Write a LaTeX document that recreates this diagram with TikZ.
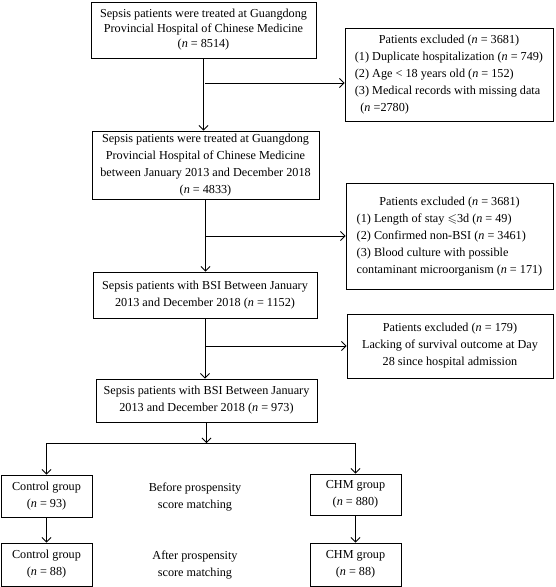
\documentclass[tikz,border=0pt]{standalone}
\usepackage{fontspec}
\setmainfont{Liberation Serif}
\usepackage{amssymb}
\usetikzlibrary{arrows.meta}
\newcommand{\nn}{\textit{n}}
\begin{document}
\begin{tikzpicture}[x=1pt,y=-1pt,
  box/.style={draw, line width=0.9pt, inner sep=0pt, align=center,
    font=\fontsize{12.2}{17}\selectfont},
  plain/.style={inner sep=0pt, align=center, font=\fontsize{12.2}{17}\selectfont},
  arr/.style={-{Straight Barb[length=4.5pt,width=9pt]}, line width=0.8pt},
  ln/.style={line width=0.8pt}]
\useasboundingbox (0,0) rectangle (556,587);
\node[box, minimum width=225pt, minimum height=56pt, font=\fontsize{12.2}{15}\selectfont] (b1) at (203.5,30)
  {Sepsis patients were treated at Guangdong\\Provincial Hospital of Chinese Medicine\\(\nn{} = 8514)};
\node[box, minimum width=227pt, minimum height=68pt] (b2) at (205.5,165)
  {Sepsis patients were treated at Guangdong\\Provincial Hospital of Chinese Medicine\\between January 2013 and December 2018\\(\nn{} = 4833)};
\node[box, minimum width=224pt, minimum height=46pt] (b3) at (205,295)
  {Sepsis patients with BSI Between January\\2013 and December 2018 (\nn{} = 1152)};
\node[box, minimum width=221pt, minimum height=43pt] (b4) at (206.5,400.5)
  {Sepsis patients with BSI Between January\\2013 and December 2018 (\nn{} = 973)};
\node[box, minimum width=208pt, minimum height=93pt] (r1) at (449,74.5)
  {\begin{tabular}{@{}l@{}}\multicolumn{1}{@{}c@{}}{Patients excluded (\nn{} = 3681)}\\
  (1) Duplicate hospitalization (\nn{} = 749)\\
  (2) Age < 18 years old (\nn{} = 152)\\
  (3) Medical records with missing data\\
  \hspace*{0.45em}(\nn{} =2780)\end{tabular}};
\node[box, minimum width=207pt, minimum height=106pt] (r2) at (449.5,236)
  {\begin{tabular}{@{}l@{}}\multicolumn{1}{@{}c@{}}{Patients excluded (\nn{} = 3681)}\\
  (1) Length of stay $\leqslant$3d (\nn{} = 49)\\
  (2) Confirmed non-BSI (\nn{} = 3461)\\
  (3) Blood culture with possible\\
  contaminant microorganism (\nn{} = 171)\end{tabular}};
\node[box, minimum width=206pt, minimum height=64pt] (r3) at (450,346)
  {Patients excluded (\nn{} = 179)\\Lacking of survival outcome at Day\\28 since hospital admission};
\node[box, minimum width=91pt, minimum height=42pt] (c1) at (46.5,496)
  {Control group\\(\nn{} = 93)};
\node[box, minimum width=91pt, minimum height=41pt] (h1) at (355.5,494.5)
  {CHM group\\(\nn{} = 880)};
\node[box, minimum width=91pt, minimum height=43pt] (c2) at (46.5,564.5)
  {Control group\\(\nn{} = 88)};
\node[box, minimum width=91pt, minimum height=43pt] (h2) at (355.5,564.5)
  {CHM group\\(\nn{} = 88)};
\node[plain] (t1) at (195,497) {Before prospensity\\score matching};
\node[plain] (t2) at (195,565) {After prospensity\\score matching};
% connectors
\coordinate (j1) at (205,83);
\draw[arr] (b1.south) -- (b1.south |- b2.north);
\draw[arr] (j1) -- (j1 -| r1.west);
\draw[arr] (b2.south) -- (b2.south |- b3.north);
\draw[arr] (b2.south |- r2.west) -- (r2.west);
\draw[arr] (b3.south) -- (b3.south |- b4.north);
\draw[arr] (b3.south |- r3.west) -- (r3.west);
\coordinate (d) at (206,443);
\draw[arr] (b4.south) -- (b4.south |- d);
\draw[ln] (c1.north |- d) -- (h1.north |- d);
\draw[arr] (c1.north |- d) -- (c1.north);
\draw[arr] (h1.north |- d) -- (h1.north);
\draw[arr] (c1.south) -- (c2.north);
\draw[arr] (h1.south) -- (h2.north);
\end{tikzpicture}
\end{document}
